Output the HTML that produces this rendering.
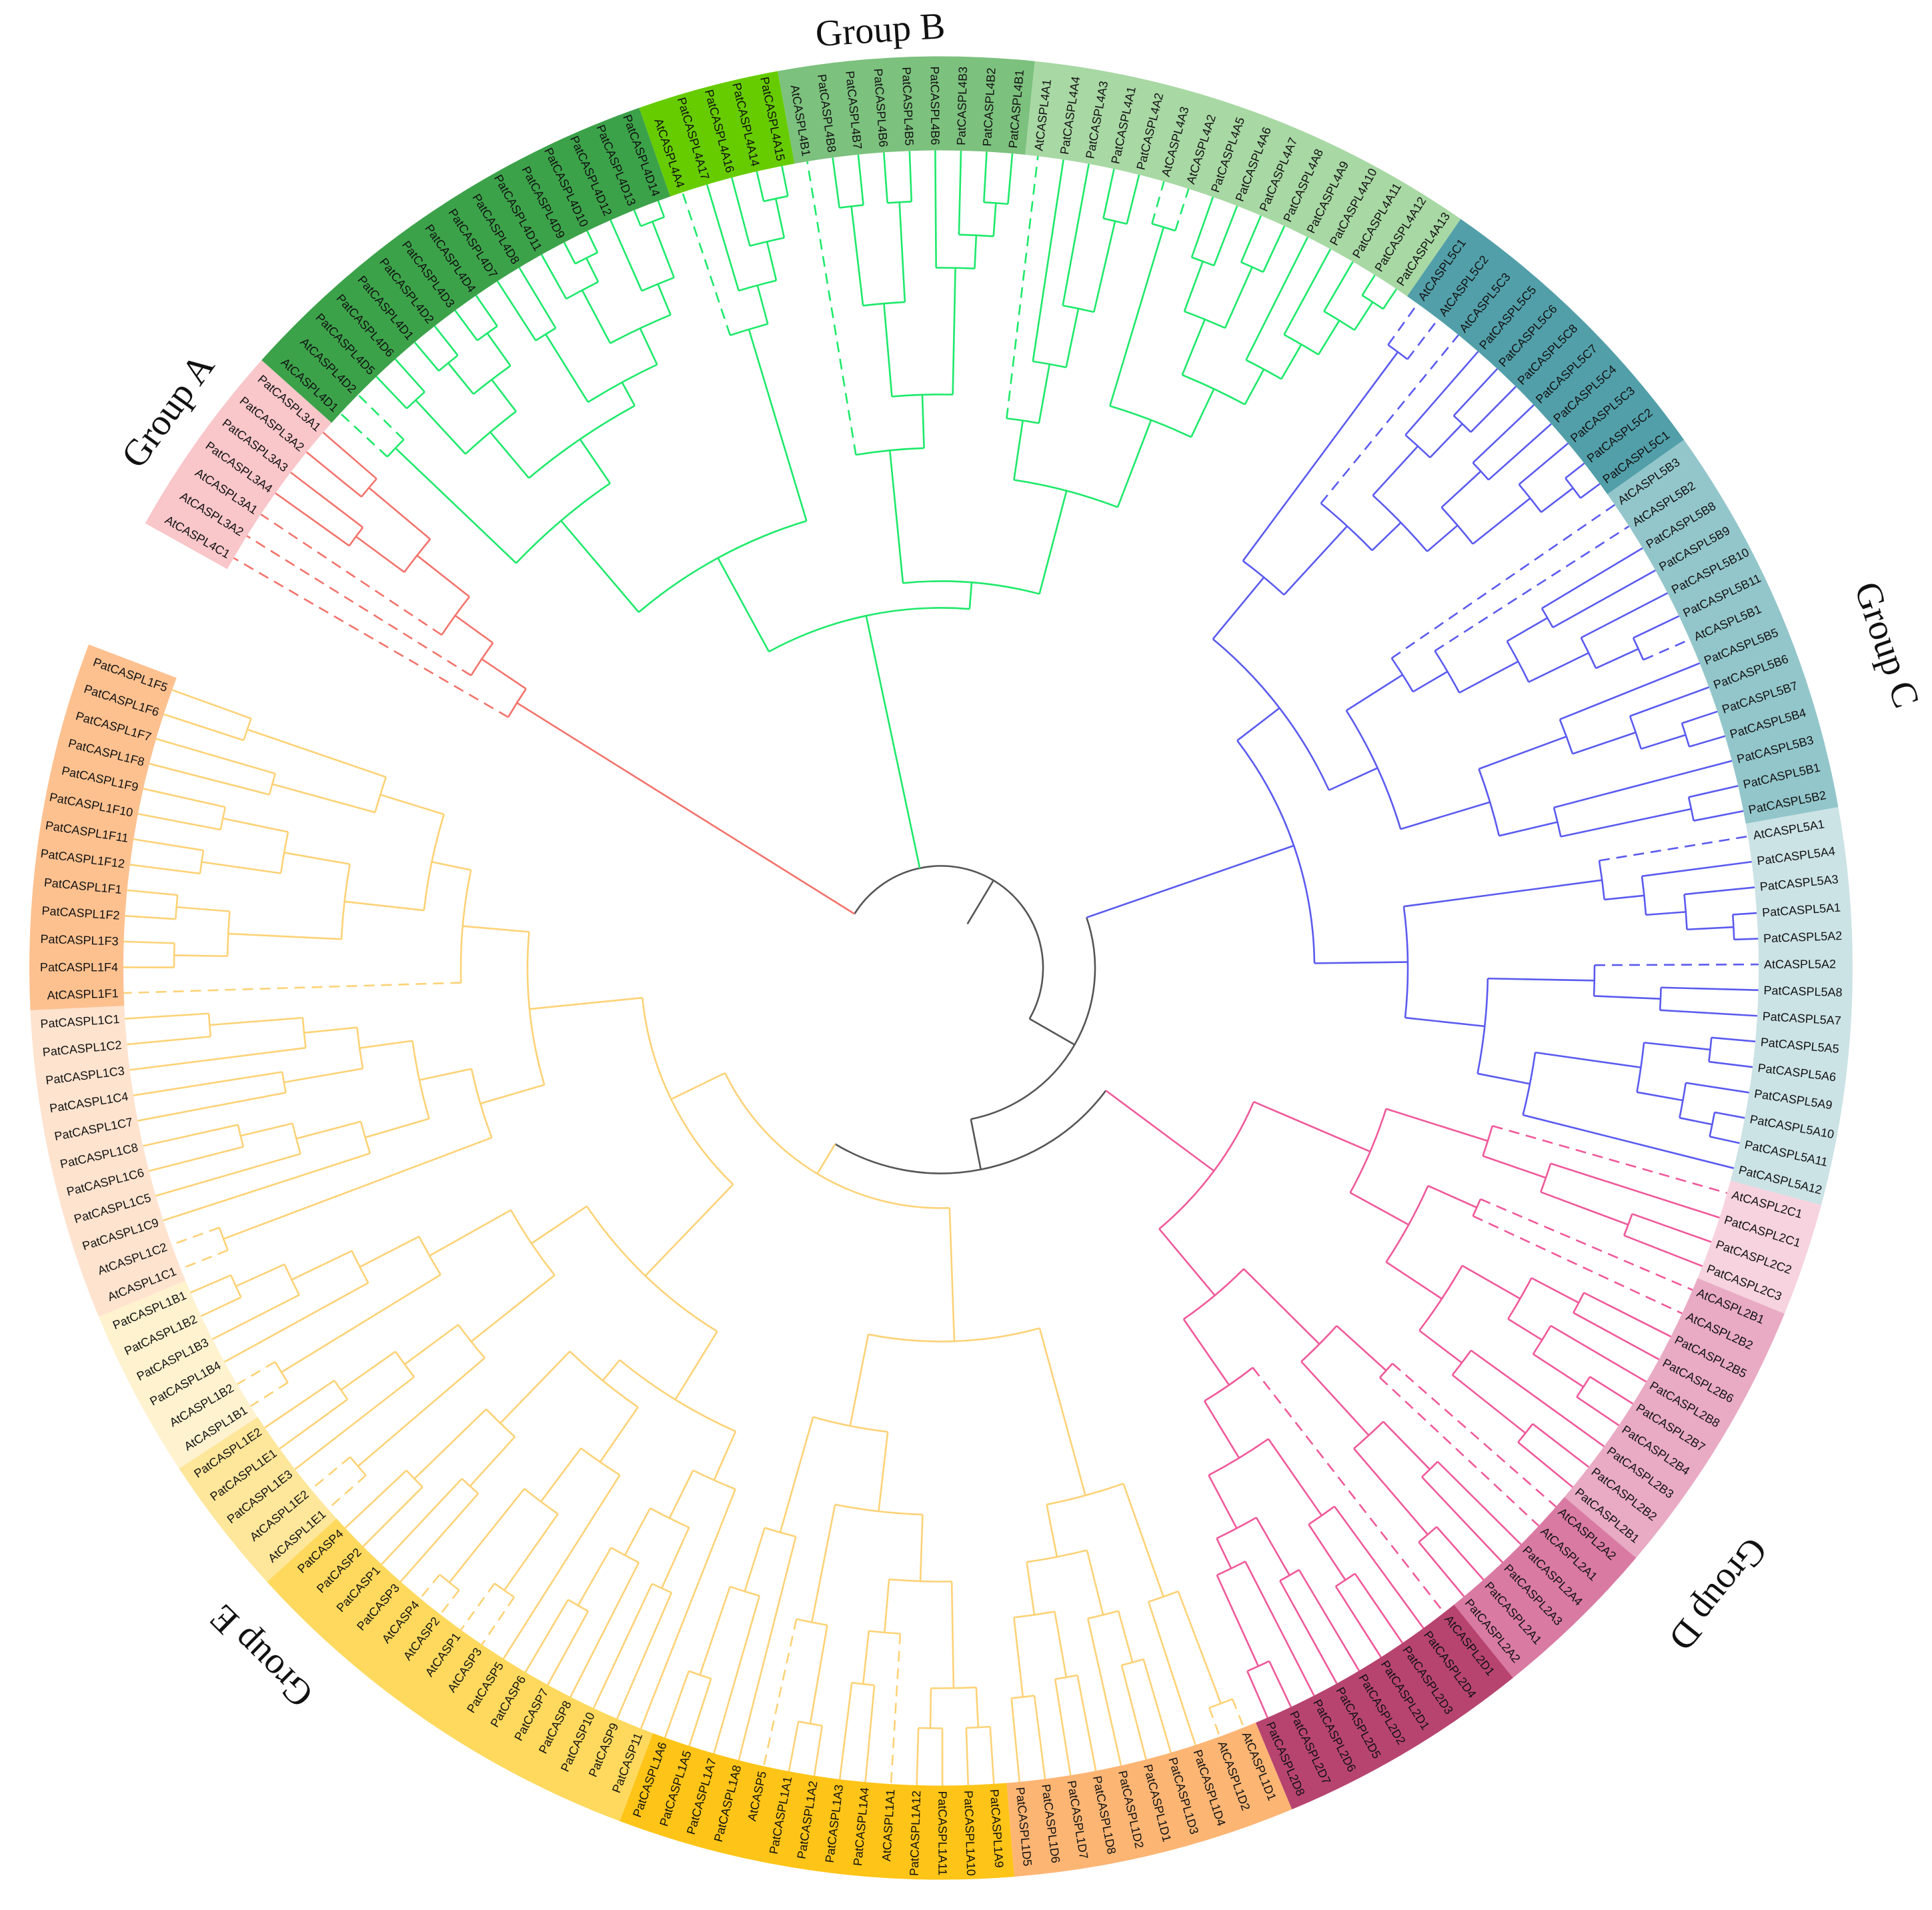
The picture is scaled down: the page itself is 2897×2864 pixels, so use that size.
<!DOCTYPE html>
<html><head><meta charset="utf-8">
<style>
html,body{margin:0;padding:0;background:#fff;}
svg{display:block;}
.lbl{font-family:"Liberation Sans",sans-serif;font-size:18px;fill:#111;}
.grp{font-family:"Liberation Serif",serif;font-size:56px;fill:#111;}
</style></head>
<body>
<svg id="chart" width="2897" height="2864" viewBox="0 0 2897 2864" xmlns="http://www.w3.org/2000/svg">
<g id="bands"></g>
<g id="tree"></g>
<g id="labels"></g>
<g id="groups"></g>
</svg>
<script>
const leafLabels = ["AtCASPL4C1","AtCASPL3A2","AtCASPL3A1","PatCASPL3A4","PatCASPL3A3","PatCASPL3A2","PatCASPL3A1",
"AtCASPL4D1","AtCASPL4D2","PatCASPL4D5","PatCASPL4D6","PatCASPL4D1","PatCASPL4D2","PatCASPL4D3","PatCASPL4D4","PatCASPL4D7","PatCASPL4D8","PatCASPL4D11","PatCASPL4D9","PatCASPL4D10","PatCASPL4D12","PatCASPL4D13","PatCASPL4D14",
"AtCASPL4A4","PatCASPL4A17","PatCASPL4A16","PatCASPL4A14","PatCASPL4A15",
"AtCASPL4B1","PatCASPL4B8","PatCASPL4B7","PatCASPL4B6","PatCASPL4B5","PatCASPL4B6","PatCASPL4B3","PatCASPL4B2","PatCASPL4B1",
"AtCASPL4A1","PatCASPL4A4","PatCASPL4A3","PatCASPL4A1","PatCASPL4A2","AtCASPL4A3","AtCASPL4A2","PatCASPL4A5","PatCASPL4A6","PatCASPL4A7","PatCASPL4A8","PatCASPL4A9","PatCASPL4A10","PatCASPL4A11","PatCASPL4A12","PatCASPL4A13",
"AtCASPL5C1","AtCASPL5C2","AtCASPL5C3","PatCASPL5C5","PatCASPL5C6","PatCASPL5C8","PatCASPL5C7","PatCASPL5C4","PatCASPL5C3","PatCASPL5C2","PatCASPL5C1",
"AtCASPL5B3","AtCASPL5B2","PatCASPL5B8","PatCASPL5B9","PatCASPL5B10","PatCASPL5B11","AtCASPL5B1","PatCASPL5B5","PatCASPL5B6","PatCASPL5B7","PatCASPL5B4","PatCASPL5B3","PatCASPL5B1","PatCASPL5B2",
"AtCASPL5A1","PatCASPL5A4","PatCASPL5A3","PatCASPL5A1","PatCASPL5A2","AtCASPL5A2","PatCASPL5A8","PatCASPL5A7","PatCASPL5A5","PatCASPL5A6","PatCASPL5A9","PatCASPL5A10","PatCASPL5A11","PatCASPL5A12",
"AtCASPL2C1","PatCASPL2C1","PatCASPL2C2","PatCASPL2C3",
"AtCASPL2B1","AtCASPL2B2","PatCASPL2B5","PatCASPL2B6","PatCASPL2B8","PatCASPL2B7","PatCASPL2B4","PatCASPL2B3","PatCASPL2B2","PatCASPL2B1",
"AtCASPL2A2","AtCASPL2A1","PatCASPL2A4","PatCASPL2A3","PatCASPL2A1","PatCASPL2A2",
"AtCASPL2D1","PatCASPL2D4","PatCASPL2D3","PatCASPL2D1","PatCASPL2D2","PatCASPL2D5","PatCASPL2D6","PatCASPL2D7","PatCASPL2D8",
"AtCASPL1D1","AtCASPL1D2","PatCASPL1D4","PatCASPL1D3","PatCASPL1D1","PatCASPL1D2","PatCASPL1D8","PatCASPL1D7","PatCASPL1D6","PatCASPL1D5",
"PatCASPL1A9","PatCASPL1A10","PatCASPL1A11","PatCASPL1A12","AtCASPL1A1","PatCASPL1A4","PatCASPL1A3","PatCASPL1A2","PatCASPL1A1","AtCASP5","PatCASPL1A8","PatCASPL1A7","PatCASPL1A5","PatCASPL1A6",
"PatCASP11","PatCASP9","PatCASP10","PatCASP8","PatCASP7","PatCASP6","PatCASP5","AtCASP3","AtCASP1","AtCASP2","AtCASP4","PatCASP3","PatCASP1","PatCASP2","PatCASP4",
"AtCASPL1E1","AtCASPL1E2","PatCASPL1E3","PatCASPL1E1","PatCASPL1E2",
"AtCASPL1B1","AtCASPL1B2","PatCASPL1B4","PatCASPL1B3","PatCASPL1B2","PatCASPL1B1",
"AtCASPL1C1","AtCASPL1C2","PatCASPL1C9","PatCASPL1C5","PatCASPL1C6","PatCASPL1C8","PatCASPL1C7","PatCASPL1C4","PatCASPL1C3","PatCASPL1C2","PatCASPL1C1",
"AtCASPL1F1","PatCASPL1F4","PatCASPL1F3","PatCASPL1F2","PatCASPL1F1","PatCASPL1F12","PatCASPL1F11","PatCASPL1F10","PatCASPL1F9","PatCASPL1F8","PatCASPL1F7","PatCASPL1F6","PatCASPL1F5"];

const bandStarts = [0,7,23,28,37,53,64,78,92,96,106,112,121,131,145,160,165,171,182];
const bandEnds   = [6,22,27,36,52,63,77,91,95,105,111,120,130,144,159,164,170,181,194];
const bandColors = ["#f9c6ca","#3ca24a","#66cc00","#7cc17e","#a8d8a4","#529fa9","#93c6cb","#cce3e6","#f6d3de","#e9aac3","#d97aa3","#b7446f","#fdb574","#fec417","#fed95d","#fee69a","#fff2cf","#fee3cf","#fdc190"];

const groupNames = ["Group A","Group B","Group C","Group D","Group E"];
const groupColors = ["#f2736b","#1de96a","#5a5af0","#f0589a","#fdd276"];

// tree: [nodeRadius, child, child, ...]; numbers are leaf indices
const treeA = [750, 0, [830, 1, [900, 2, [1000, [1090, 3, 4], [1120, 5, 6]]]]];
const treeB = [540,
  [700,
    [880, [1130,7,8], [960, [1050,[1160,9,10],[1110,[1170,11,12],[1170,13,14]]], [1000,[1120,15,16],[1060,[1150,17,[1190,18,19]],[1110,20,[1200,21,22]]]]]],
    [1000, 23, [1060, 24, [1120, 25, [1180, 26, 27]]]]],
  [580,
    [780, 28, [860, [1000,[1150,29,30],[1150,31,32]], [1050, 33, [1100, 34, [1150,35,36]]]]],
    [740, [830, 37, [920, 38, [1010, 39, [1150, 40, 41]]]], [880, [1160, 42, 43], [960, [1050,[1130,44,45],[1150,46,47]], [1020, 48, [1080, 49, [1140, 50, [1190, 51, 52]]]]]]]]];
const treeC = [560,
  [640,
    [760, [1150,53,54], [900, 55, [960, [1060, 56, [1130, 57, 58]], [1020, [1100, 59, 60], [1130, 61, [1190, 62, 63]]]]]],
    [720, [820, 64, [880, 65, [980, [1050, 66, 67], [1080, 68, [1150, 69, 70]]]]], [860, [1000, 71, [1100, 72, [1170, 73, 74]]], [950, 75, [1150, 76, 77]]]]],
  [700, [860, [1000, 78, [1060, 79, [1120, 80, [1190, 81, 82]]]]], [820, [980, 83, [1080, 84, 85]], [900, [1060,[1160,86,87],[1130, 88, [1180, 89, 90]]], 91]]]];
const treeD = [510,
  [700, [860, 92, [960, 93, [1100, 94, 95]]], [800, [880, 96, 97], [900, [1000, [1080, 98, 99], [1060, 100, [1150, 101, 102]]], [980, 103, [1120, 104, 105]]]]],
  [640, [800, [900, 106, 107], [950, [1050, 108, 109], [1120, 110, 111]]], [760, 112, [860, [1000, 113, [1100, 114, 115]], [950, [1050, 116, 117], [1000, 118, [1150, 119, 120]]]]]]];
const treeE = [360,
  [560,
    [820, [1000, [1180, 121, 122], 123], [900, [1000, [1080, 124, 125], 126], [980, [1080, 127, 128], [1100, 129, 130]]]],
    [700, [820, [920, [1080, [1140, 131, 132], [1140, 133, 134]], [1000, 135, [1080, 136, 137]]], [1000, [1150, 138, 139], 140]], [880, 141, [980, 142, [1120, 143, 144]]]]],
  [450,
    [640,
      [760, [840, 145, [920, [1020, 146, 147], [1000, 148, [1100, 149, 150]]]], [800, [900, 151, [1000, [1140, 152, 153], [1180, 154, 155]]], [950, [1050, 156, 157], [1100, 158, 159]]]],
      [740, [900, [1150, 160, 161], [1000, 162, [1100, 163, 164]]], [880, [1160, 165, 166], [980, 167, [1080, 168, [1160, 169, 170]]]]]],
    [620,
      [720, [1150, 171, 172], [800, [900, 173, [1000, 174, [1080, 175, 176]]], [880, [1000, 177, 178], [960, 179, [1100, 180, 181]]]]],
      [720, 182, [780, [900, [1070, [1150, 183, 184], [1150, 185, 186]], [1000, [1120, 187, 188], [1100, 189, 190]]], [880, [1040, 191, 192], [1100, 193, 194]]]]]]];

const NS = "http://www.w3.org/2000/svg";
const cx = 1411, cy = 1451.5, rLeaf = 1226, rOut = 1367;
const startAngle = 300.1, stepAngle = 1.803;
function leafAngle(i){ return startAngle + i*stepAngle; }
function pt(r,a){ const t=a*Math.PI/180; return [cx + r*Math.sin(t), cy - r*Math.cos(t)]; }
function arcD(r,a1,a2){ const p=pt(r,a1), q=pt(r,a2); const lg=(a2-a1)>180?1:0; return `M${p[0].toFixed(2)},${p[1].toFixed(2)} A${r},${r} 0 ${lg} 1 ${q[0].toFixed(2)},${q[1].toFixed(2)}`; }
function mk(tag, parent){ const e=document.createElementNS(NS,tag); parent.appendChild(e); return e; }

const gb = document.getElementById('bands');
for (let k=0;k<bandStarts.length;k++){
  const a1 = leafAngle(bandStarts[k]) - stepAngle/2, a2 = leafAngle(bandEnds[k]) + stepAngle/2;
  const p1=pt(rLeaf,a1), p2=pt(rOut,a1), p3=pt(rOut,a2), p4=pt(rLeaf,a2);
  const lg=(a2-a1)>180?1:0;
  const e = mk('path', gb);
  
  
  e.setAttribute('d', `M${p1[0]},${p1[1]} L${p2[0]},${p2[1]} A${rOut},${rOut} 0 ${lg} 1 ${p3[0]},${p3[1]} L${p4[0]},${p4[1]} A${rLeaf},${rLeaf} 0 ${lg} 0 ${p1[0]},${p1[1]} Z`);
  e.setAttribute('fill', bandColors[k]);
}

const gt = document.getElementById('tree');
function line(r1,r2,a,color,dashed){
  const p=pt(r1,a), q=pt(r2,a);
  const e = mk('path', gt);
  
  
  e.setAttribute('d', `M${p[0].toFixed(2)},${p[1].toFixed(2)} L${q[0].toFixed(2)},${q[1].toFixed(2)}`);
  e.setAttribute('stroke', color); e.setAttribute('stroke-width','2.6'); e.setAttribute('fill','none');
  if (dashed) e.setAttribute('stroke-dasharray','16,10');
}
function arc(r,a1,a2,color){
  const e = mk('path', gt);
  
  
  e.setAttribute('d', arcD(r,a1,a2));
  e.setAttribute('stroke', color); e.setAttribute('stroke-width','2.6'); e.setAttribute('fill','none');
}
function layout(node){
  if (typeof node === 'number') return {a: leafAngle(node), r: rLeaf, leaf: node};
  const kids = node.slice(1).map(layout);
  const angs = kids.map(k=>k.a);
  const mn = Math.min(...angs), mx = Math.max(...angs);
  return {a:(mn+mx)/2, r: node[0], kids, mn, mx};
}
function draw(n, color){
  if (!n.kids) return;
  arc(n.r, n.mn, n.mx, color);
  n.kids.forEach(k=>{
    const dashed = (k.leaf !== undefined) && leafLabels[k.leaf].startsWith('At');
    line(n.r, k.r, k.a, color, dashed);
    draw(k, color);
  });
}
const groupTrees = [treeA, treeB, treeC, treeD, treeE].map(layout);
groupTrees.forEach((g,i)=>draw(g, groupColors[i]));
const gray = "#555";
const nA=groupTrees[0], nB=groupTrees[1], nC=groupTrees[2], nD=groupTrees[3], nE=groupTrees[4];
const r3=308, r2=231, r1=153, r0=77;
const a3 = (nD.a + nE.a)/2;
arc(r3, Math.min(nD.a,nE.a), Math.max(nD.a,nE.a), gray);
line(r3, nD.r, nD.a, groupColors[3], false);
line(r3, nE.r, nE.a, groupColors[4], false);
const a2 = (nC.a + a3)/2;
arc(r2, Math.min(nC.a,a3), Math.max(nC.a,a3), gray);
line(r2, nC.r, nC.a, groupColors[2], false);
line(r2, r3, a3, gray, false);
const a1 = (nA.a + a2)/2;
arc(r1, nA.a, a2, gray);
line(r1, nA.r, nA.a, groupColors[0], false);
line(r1, nB.r, nB.a, groupColors[1], false);
line(r1, r2, a2, gray, false);
line(r0, r1, a1, gray, false);

const gl = document.getElementById('labels');
leafLabels.forEach((s,i)=>{
  let a = leafAngle(i) % 360;
  const p = pt(1234, a);
  const t = mk('text', gl);
  
  
  t.setAttribute('class','lbl');
  t.setAttribute('x', p[0].toFixed(2)); t.setAttribute('y', p[1].toFixed(2));
  t.setAttribute('dominant-baseline','central');
  if (a < 180){ t.setAttribute('text-anchor','start'); t.setAttribute('transform',`rotate(${(a-90).toFixed(2)} ${p[0].toFixed(2)} ${p[1].toFixed(2)})`); }
  else { t.setAttribute('text-anchor','end'); t.setAttribute('transform',`rotate(${(a+90).toFixed(2)} ${p[0].toFixed(2)} ${p[1].toFixed(2)})`); }
  t.textContent = s;
});

const groupX = [252, 1320, 2829, 2576, 392];
const groupY = [616, 45, 967, 2390, 2483];
const gg = document.getElementById('groups');
groupNames.forEach((s,i)=>{
  const dx = groupX[i]-cx, dy = groupY[i]-cy;
  let a = Math.atan2(dx, -dy)*180/Math.PI;
  const t = mk('text', gg);
  
  
  t.setAttribute('class','grp');
  t.setAttribute('x', groupX[i]); t.setAttribute('y', groupY[i]);
  t.setAttribute('text-anchor','middle'); t.setAttribute('dominant-baseline','central');
  t.setAttribute('transform',`rotate(${a.toFixed(2)} ${groupX[i]} ${groupY[i]})`);
  t.textContent = s;
});
</script>
</body></html>
